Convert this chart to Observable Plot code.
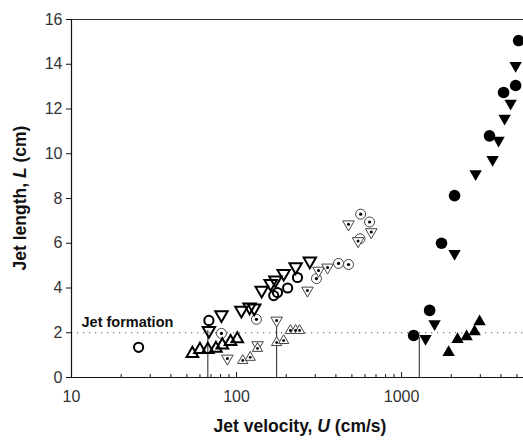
<!DOCTYPE html>
<html>
<head>
<meta charset="utf-8">
<script src="https://cdn.jsdelivr.net/npm/d3@7"></script>
<script src="https://cdn.jsdelivr.net/npm/@observablehq/plot@0.6"></script>
<style>
  html, body { margin: 0; padding: 0; background: white; }
</style>
</head>
<body>
<div id="chart"></div>
<script>
// ---- Data (U in cm/s, L in cm) ----
const openCircleU = [25.5, 68, 168, 177, 204, 234];
const openCircleL = [1.35, 2.55, 3.66, 3.8, 4.0, 4.47];

const openDownU = [68, 81, 107, 120, 128, 142, 161, 172, 193, 228, 278];
const openDownL = [2.1, 2.8, 3.0, 3.15, 3.1, 3.9, 4.2, 4.35, 4.65, 4.95, 5.2];

const openUpU = [54, 60, 67, 75, 82, 92, 101];
const openUpL = [1.07, 1.25, 1.25, 1.3, 1.45, 1.6, 1.72];

const dotCircleU = [81, 132, 305, 415, 477, 560, 565, 640];
const dotCircleL = [1.97, 2.6, 4.42, 5.1, 5.05, 6.2, 7.3, 6.95];

const dotDownU = [88, 134, 175, 269, 314, 356, 477, 545, 655];
const dotDownL = [0.85, 1.45, 2.55, 3.89, 4.78, 4.92, 6.85, 6.1, 6.5];

const dotUpU = [109, 121, 134, 175, 193, 212, 228, 241];
const dotUpL = [0.76, 0.9, 1.3, 1.56, 1.65, 2.1, 2.1, 2.1];

const filledCircleU = [1183, 1479, 1746, 2094, 3410, 4150, 4910, 5120];
const filledCircleL = [1.88, 3.0, 6.0, 8.13, 10.8, 12.74, 13.05, 15.06];

const filledDownU = [1397, 1585, 2094, 2810, 3560, 3870, 4210, 4580, 4910];
const filledDownL = [1.74, 2.4, 5.54, 9.1, 9.74, 10.6, 11.58, 12.25, 13.94];

const filledUpU = [1928, 2183, 2478, 2770, 2970];
const filledUpL = [1.12, 1.7, 1.83, 2.05, 2.5];

// vertical marker lines (U, top L)
const vlineU = [67, 175, 1280];
const vlineTop = [2.1, 2.4, 1.8];

// threshold
const jetFormationL = [2];
const jetLabelText = ["Jet formation"];

// axes
const xDomain = [10, 5480];
const yDomain = [0, 16];
const xMajor = [10, 100, 1000];
const xMinor = [20, 30, 40, 50, 60, 70, 80, 90, 200, 300, 400, 500, 600, 700, 800, 900, 2000, 3000, 4000, 5000];
const yTicks = [0, 2, 4, 6, 8, 10, 12, 14, 16];
const xTitle = ["Jet velocity, ", "U", " (cm/s)"];
const yTitle = ["Jet length, ", "L", " (cm)"];

// ---- helpers ----
const zip = (U, L) => U.map((u, i) => ({u, l: L[i]}));
const downTri = {
  draw(ctx, size) {
    const s = Math.sqrt(size * 4 / Math.sqrt(3));
    const h = s * Math.sqrt(3) / 2;
    ctx.moveTo(0, 2 * h / 3);
    ctx.lineTo(-s / 2, -h / 3);
    ctx.lineTo(s / 2, -h / 3);
    ctx.closePath();
  }
};
const upTri = {
  draw(ctx, size) {
    const s = Math.sqrt(size * 4 / Math.sqrt(3));
    const h = s * Math.sqrt(3) / 2;
    ctx.moveTo(0, -2 * h / 3);
    ctx.lineTo(-s / 2, h / 3);
    ctx.lineTo(s / 2, h / 3);
    ctx.closePath();
  }
};

const oc = zip(openCircleU, openCircleL);
const od = zip(openDownU, openDownL);
const ou = zip(openUpU, openUpL);
const dc = zip(dotCircleU, dotCircleL);
const dd = zip(dotDownU, dotDownL);
const du = zip(dotUpU, dotUpL);
const fc = zip(filledCircleU, filledCircleL);
const fd = zip(filledDownU, filledDownL);
const fu = zip(filledUpU, filledUpL);
const vl = zip(vlineU, vlineTop);

const font = "'Liberation Sans', Arial, Helvetica, sans-serif";

const plot = Plot.plot({
  width: 523,
  height: 441,
  marginTop: 19,
  marginBottom: 64,
  marginLeft: 71,
  marginRight: 0,
  style: {fontFamily: font, background: "white"},
  x: {type: "log", domain: xDomain},
  y: {domain: yDomain},
  marks: [
    // frame lines
    Plot.ruleY([yDomain[1]], {stroke: "#333", strokeWidth: 1.2}),
    // threshold dotted line
    Plot.ruleY(jetFormationL, {stroke: "#555", strokeWidth: 1, strokeDasharray: "1.2,4.8"}),
    Plot.text(jetLabelText, {x: xDomain[0], y: jetFormationL[0], text: d => d, textAnchor: "start", dx: 10, dy: -10, fontWeight: "bold", fontSize: 14.5, fill: "#111"}),
    // vertical lines
    Plot.ruleX(vl, {x: "u", y1: 0, y2: "l", stroke: "#222", strokeWidth: 1}),
    // axis lines
    Plot.ruleX([xDomain[0]], {stroke: "#111", strokeWidth: 1.2}),
    Plot.ruleY([0], {stroke: "#111", strokeWidth: 1.2}),
    // x ticks inward
    Plot.ruleX(xMinor, {x: d => d, y1: 0, y2: 0.13, stroke: "#111"}),
    Plot.ruleX(xMajor, {x: d => d, y1: 0, y2: 0.22, stroke: "#111"}),
    Plot.axisX({ticks: xMajor, tickSize: 0, tickPadding: 13, tickFormat: d => String(d), fontSize: 16, fill: "#333", label: null}),
    Plot.axisY({ticks: yTicks, tickSize: 5, tickPadding: 4, fontSize: 16, fill: "#333", stroke: "#111", label: null}),
    // thin dotted-symbol series
    Plot.dot(dc, {x: "u", y: "l", r: 5, stroke: "#444", strokeWidth: 1, fill: "white"}),
    Plot.dot(dc, {x: "u", y: "l", r: 1.6, fill: "#000", stroke: "none"}),
    Plot.dot(dd, {x: "u", y: "l", symbol: downTri, r: 4.3, stroke: "#444", strokeWidth: 1, fill: "white"}),
    Plot.dot(dd, {x: "u", y: "l", r: 1.5, fill: "#000", stroke: "none"}),
    Plot.dot(du, {x: "u", y: "l", symbol: upTri, r: 3.8, stroke: "#444", strokeWidth: 1, fill: "white"}),
    Plot.dot(du, {x: "u", y: "l", r: 1.4, fill: "#000", stroke: "none"}),
    // open thick series
    Plot.dot(oc, {x: "u", y: "l", r: 4.6, stroke: "#000", strokeWidth: 2, fill: "none"}),
    Plot.dot(od, {x: "u", y: "l", symbol: downTri, r: 4.6, stroke: "#000", strokeWidth: 2, fill: "none"}),
    Plot.dot(ou, {x: "u", y: "l", symbol: upTri, r: 4.3, stroke: "#000", strokeWidth: 2, fill: "none"}),
    // filled series
    Plot.dot(fc, {x: "u", y: "l", r: 5.8, fill: "#000", stroke: "none"}),
    Plot.dot(fd, {x: "u", y: "l", symbol: downTri, r: 4.6, fill: "#000", stroke: "none"}),
    Plot.dot(fu, {x: "u", y: "l", symbol: upTri, r: 4.6, fill: "#000", stroke: "none"})
  ]
});

// axis titles with italic variables
const svg = d3.select(plot);
const xs = plot.scale("x"), ys = plot.scale("y");
const cx = (xs.range[0] + xs.range[1]) / 2 + 3;
const cy = (ys.range[0] + ys.range[1]) / 2;
const addTitle = (parts, attrs) => {
  const t = svg.append("text")
    .attr("text-anchor", "middle")
    .attr("font-weight", "bold")
    .attr("font-size", 17.5)
    .attr("font-family", font)
    .attr("fill", "#111");
  for (const [k, v] of Object.entries(attrs)) t.attr(k, v);
  parts.forEach((p, i) => {
    const s = t.append("tspan").text(p);
    if (i === 1) s.attr("font-style", "italic");
  });
};
addTitle(xTitle, {x: cx, y: 432});
addTitle(yTitle, {transform: `translate(26,${cy}) rotate(-90)`});

document.getElementById("chart").appendChild(plot);
</script>
</body>
</html>
